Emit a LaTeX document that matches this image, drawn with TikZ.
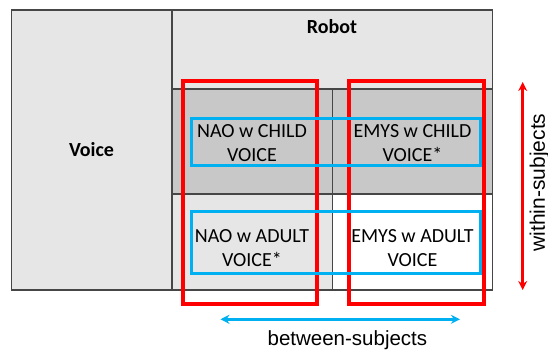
\documentclass[tikz,border=0pt]{standalone}
\usepackage{fontspec}
\setmainfont{Carlito}
\newfontfamily\arialfont{Liberation Sans}
\usetikzlibrary{arrows.meta}
\definecolor{lightgr}{RGB}{230,230,230}
\definecolor{midgr}{RGB}{200,200,200}
\definecolor{gridc}{RGB}{70,70,70}
\definecolor{redc}{RGB}{255,0,0}
\definecolor{bluec}{RGB}{0,176,240}
\tikzset{
  cell/.style={draw=gridc, line width=1.2pt},
  celltext/.style={font=\fontsize{20}{24}\selectfont, align=center, inner sep=0pt},
  headtext/.style={font=\fontsize{20}{24}\selectfont\bfseries, inner sep=0pt},
  redbox/.style={draw=redc, line width=4pt},
  bluebox/.style={draw=bluec, line width=3.5pt},
  axislabel/.style={font=\arialfont\fontsize{20.5}{24}\selectfont, inner sep=0pt},
}
\begin{document}
\begin{tikzpicture}[x=1pt,y=-1pt]
\useasboundingbox (0,0) rectangle (548,352);
% cells
\path[cell, fill=lightgr] (11.5,10) rectangle (172,290);
\path[cell, fill=lightgr] (172,10) rectangle (492.5,89);
\path[cell, fill=midgr] (172,89) rectangle (332.5,194);
\path[cell, fill=midgr] (332.5,89) rectangle (492.5,194);
\path[cell, fill=lightgr] (172,194) rectangle (332.5,290);
\path[cell, fill=white] (332.5,194) rectangle (492.5,290);
\draw[gridc, line width=0.8pt] (332.5,89) -- (332.5,290);
% texts
\node[headtext] (robot) at (332,27) {Robot};
\node[headtext] (voice) at (91.5,150) {Voice};
\node[celltext] (nc) at (252,143) {NAO w CHILD\\VOICE};
\node[celltext] (ec) at (412.5,143) {EMYS w CHILD\\VOICE*};
\node[celltext] (na) at (252,248) {NAO w ADULT\\VOICE*};
\node[celltext] (ea) at (412.5,248) {EMYS w ADULT\\VOICE};
% red and blue groupings
\draw[redbox] (183,81.3) rectangle (317.3,304);
\draw[redbox] (349.3,81.3) rectangle (484,304);
\draw[bluebox] (191.7,118.5) rectangle (480.5,165.5);
\draw[bluebox] (191.7,211.7) rectangle (480.5,273.3);
% arrows
\coordinate (rt) at (522.7,82);
\coordinate (rb) at (522.7,290);
\draw[redc, line width=3pt, {Stealth[length=9pt,width=9pt]}-{Stealth[length=9pt,width=9pt]}] (rt) -- (rb);
\node[axislabel, rotate=90, font=\arialfont\fontsize{21}{24}\selectfont] (within) at (539.5,182.5) {within-subjects};
\coordinate (bl) at (220.4,319.3);
\coordinate (br) at (460,319.3);
\draw[bluec, line width=3pt, {Stealth[length=9pt,width=9pt]}-{Stealth[length=9pt,width=9pt]}] (bl) -- (br);
\node[axislabel] (between) at (347.4,340) {between-subjects};
\end{tikzpicture}
\end{document}
